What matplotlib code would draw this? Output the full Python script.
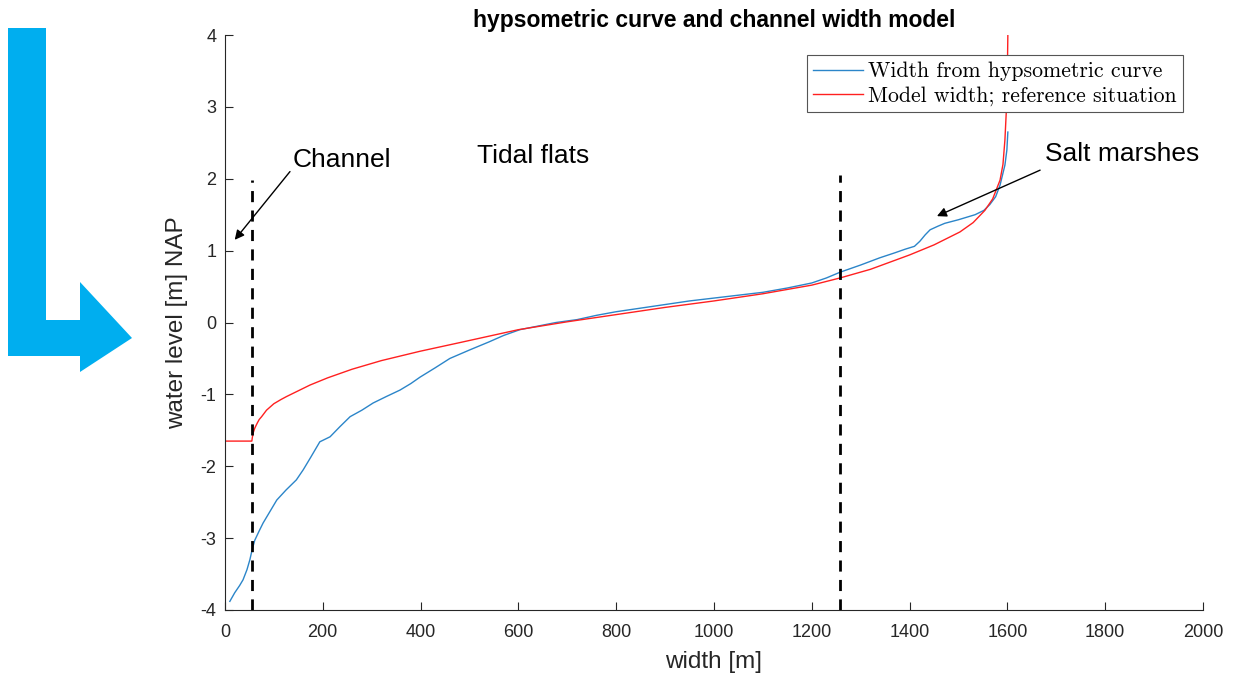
import matplotlib
matplotlib.use("Agg")
import matplotlib.pyplot as plt
from matplotlib.patches import Polygon

plt.rcParams['font.family'] = ['Liberation Sans', 'DejaVu Sans']
plt.rcParams['axes.unicode_minus'] = False

# Width derived from the hypsometric curve (width [m], water level [m NAP])
hyps_width = [10, 20, 30, 37, 45, 51, 56, 61, 70, 78, 92, 106, 125, 146, 160, 175,
              194, 215, 235, 256, 280, 303, 330, 358, 380, 399, 430, 460, 501, 540,
              570, 603, 640, 677, 720, 760, 800, 850, 900, 950, 1000, 1050, 1100,
              1150, 1200, 1230, 1258, 1300, 1339, 1370, 1391, 1410, 1421, 1432, 1442,
              1458, 1472, 1500, 1534, 1552, 1564, 1576, 1585, 1590, 1595, 1599, 1601]
hyps_level = [-3.88, -3.76, -3.66, -3.58, -3.44, -3.30, -3.15, -3.03, -2.90, -2.79,
              -2.63, -2.47, -2.33, -2.19, -2.05, -1.88, -1.66, -1.59, -1.45, -1.31,
              -1.22, -1.12, -1.03, -0.94, -0.85, -0.76, -0.63, -0.50, -0.38, -0.27,
              -0.18, -0.10, -0.05, 0.00, 0.04, 0.10, 0.15, 0.20, 0.25, 0.30, 0.34,
              0.38, 0.42, 0.48, 0.55, 0.62, 0.70, 0.80, 0.90, 0.97, 1.02, 1.06, 1.13,
              1.22, 1.29, 1.34, 1.38, 1.43, 1.50, 1.56, 1.64, 1.75, 1.91, 2.05, 2.19,
              2.40, 2.65]

# Modelled width for the reference situation
model_width = [0, 55, 56, 58, 61, 66, 70, 75, 85, 100, 115, 126, 150, 174, 210, 260,
               320, 399, 480, 560, 600, 700, 800, 900, 1000, 1100, 1200, 1258, 1320,
               1400, 1450, 1503, 1530, 1554, 1570, 1585, 1591, 1595, 1598, 1600, 1601]
model_level = [-1.65, -1.65, -1.60, -1.53, -1.47, -1.40, -1.35, -1.31, -1.22, -1.13,
               -1.07, -1.03, -0.95, -0.87, -0.77, -0.65, -0.53, -0.40, -0.28, -0.16,
               -0.10, 0.01, 0.11, 0.21, 0.30, 0.40, 0.52, 0.62, 0.74, 0.94, 1.08,
               1.26, 1.39, 1.56, 1.72, 1.98, 2.20, 2.54, 2.96, 3.50, 4.00]

# Zone boundaries (dashed lines)
boundary_x = [55, 1258]
boundary_top = [1.98, 2.05]

xticks = [0, 200, 400, 600, 800, 1000, 1200, 1400, 1600, 1800, 2000]
yticks = [-4, -3, -2, -1, 0, 1, 2, 3, 4]

fig = plt.figure(figsize=(12.38, 6.84), dpi=100)
ax = fig.add_axes([0.1817, 0.1082, 0.79, 0.8406])

ax.plot(hyps_width, hyps_level, color='#2B85C9', lw=1.0,
        label='Width from hypsometric curve')
ax.plot(model_width, model_level, color='#FF2020', lw=1.0,
        label='Model width; reference situation')
for bx, bt in zip(boundary_x, boundary_top):
    ax.plot([bx, bx], [-4, bt], color='black', lw=2.0, ls=(0, (4, 3)))

ax.set_xlim(0, 2000)
ax.set_ylim(-4, 4)
ax.set_xticks(xticks)
ax.set_yticks(yticks)
ax.tick_params(direction='in', labelsize=13, colors='#262626', length=6, width=0.8)
ax.tick_params(axis='x', pad=10)
ax.tick_params(axis='y', pad=6)
for s in ['top', 'right']:
    ax.spines[s].set_visible(False)
for s in ['left', 'bottom']:
    ax.spines[s].set_color('#262626')
    ax.spines[s].set_linewidth(0.8)

ax.set_xlabel('width [m]', fontsize=17.5, color='#262626', labelpad=7)
ax.set_ylabel('water level [m] NAP', fontsize=17.5, color='#262626', labelpad=9)
ax.set_title('hypsometric curve and channel width model', fontsize=16.5,
             fontweight='bold', color='black', pad=6)

leg = ax.legend(loc='upper right', bbox_to_anchor=(0.9796, 0.965),
                prop={'family': 'cmr10', 'size': 15.7}, frameon=True,
                fancybox=False, framealpha=1, edgecolor='#555555',
                handlelength=2.3, borderpad=0.3, labelspacing=0.22,
                handletextpad=0.2, borderaxespad=0)
leg.get_frame().set_linewidth(0.8)

ax.text(139, 2.26, 'Channel', fontsize=19, ha='left', va='center')
ax.annotate('', xy=(20, 1.15), xytext=(133, 2.10),
            arrowprops=dict(arrowstyle='-|>', color='black', lw=1.0,
                            mutation_scale=14, shrinkA=0, shrinkB=0))
ax.text(630, 2.31, 'Tidal flats', fontsize=19, ha='center', va='center')
ax.text(1677, 2.34, 'Salt marshes', fontsize=19, ha='left', va='center')
ax.annotate('', xy=(1456, 1.48), xytext=(1667, 2.12),
            arrowprops=dict(arrowstyle='-|>', color='black', lw=1.0,
                            mutation_scale=14, shrinkA=0, shrinkB=0))

# Cyan L-shaped pointer at the left edge
W, H = 1238, 684
pts = [(8, 28), (46, 28), (46, 320), (80, 320), (80, 282), (132, 338),
       (80, 372), (80, 356), (8, 356)]
arrow = Polygon([(x / W, 1 - y / H) for x, y in pts], closed=True,
                transform=fig.transFigure, facecolor='#00AEEF', edgecolor='none')
fig.patches.append(arrow)

fig.savefig('out.png', dpi=100)
